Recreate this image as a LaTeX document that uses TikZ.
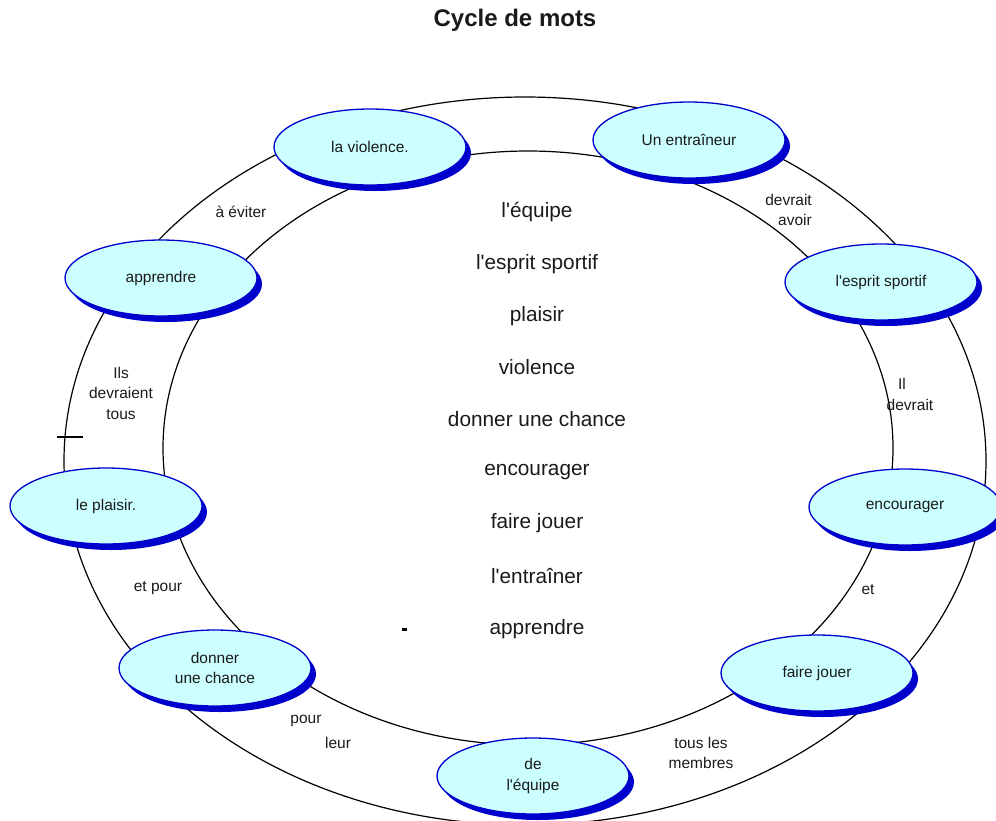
\documentclass[tikz,border=0pt]{standalone}
\usepackage{fontspec}
\setmainfont{Liberation Sans}[Ligatures=TeXOff]
\usetikzlibrary{shapes.geometric,shadows}
\definecolor{nodefill}{RGB}{204,255,255}
\definecolor{nodeblue}{RGB}{0,0,204}
\definecolor{ink}{RGB}{26,26,26}
\begin{document}
\begin{tikzpicture}[x=1pt,y=-1pt,
  word/.style={ellipse, draw=nodeblue, line width=1.3pt, fill=nodefill,
    minimum width=192pt, minimum height=76pt, inner sep=0pt, align=center,
    font=\fontsize{15.5}{20.5}\selectfont, text=ink,
    drop shadow={shadow xshift=5pt, shadow yshift=-6pt, fill=nodeblue, opacity=1}},
  lbl/.style={inner sep=0pt, align=center, font=\fontsize{15.5}{20.5}\selectfont, text=ink},
  listword/.style={inner sep=0pt, font=\fontsize{20.8}{25}\selectfont, text=ink},
  ring/.style={draw=black, line width=1.2pt}
]
\useasboundingbox (0,0) rectangle (996,820);
\node[font=\fontsize{24}{28}\selectfont\bfseries, text=ink] (title) at (515,20) {Cycle de mots};

% the two rings
\draw[ring] (525,461) ellipse [x radius=461pt, y radius=364pt];
\draw[ring] (528,448) ellipse [x radius=365pt, y radius=297pt];

% ring nodes
\node[word] (violence) at (370,147) {la violence.};
\node[word] (entraineur) at (689,140) {Un entraîneur};
\node[word] (esprit) at (881,282) {l'esprit sportif};
\node[word] (encourager) at (905,507) {encourager};
\node[word] (fairejouer) at (817,673) {faire jouer};
\node[word] (equipe) at (533,776) {de\\l'équipe};
\node[word] (chance) at (215,668) {donner\\une chance};
\node[word] (plaisir) at (106,506) {le plaisir.};
\node[word] (apprendre) at (161,278) {apprendre};

% labels between the rings
\node[lbl] (l1) at (241,212) {à éviter};
\node[lbl, align=right, anchor=east] (l2) at (812,210) {devrait\\avoir};
\node[lbl] (l3a) at (902,384) {Il};
\node[lbl] (l3b) at (910,405) {devrait};
\node[lbl] (l4) at (121,393) {Ils\\devraient\\tous};
\node[lbl] (l5) at (158,588) {et pour};
\node[lbl] (l6) at (868,590) {et};
\node[lbl] (l7a) at (306,721) {pour};
\node[lbl] (l7b) at (338,743) {leur};
\node[lbl] (l8) at (701,753) {tous les\\membres};

% central list
\node[listword] (w1) at (537,212) {l'équipe};
\node[listword] (w2) at (537,264) {l'esprit sportif};
\node[listword] (w3) at (537,316) {plaisir};
\node[listword] (w4) at (537,367) {violence};
\node[listword] (w5) at (537,419) {donner une chance};
\node[listword] (w6) at (537,472) {encourager};
\node[listword] (w7) at (537,523) {faire jouer};
\node[listword] (w8) at (537,576) {l'entraîner};
\node[listword] (w9) at (537,629) {apprendre};

% small marks
\coordinate (t1) at (57,437);
\coordinate (t2) at (83,437);
\draw[line width=2pt] (t1) -- (t2);
\coordinate (d1) at (402,628);
\coordinate (d2) at (407,631);
\fill[black] (d1) rectangle (d2);
\end{tikzpicture}
\end{document}
